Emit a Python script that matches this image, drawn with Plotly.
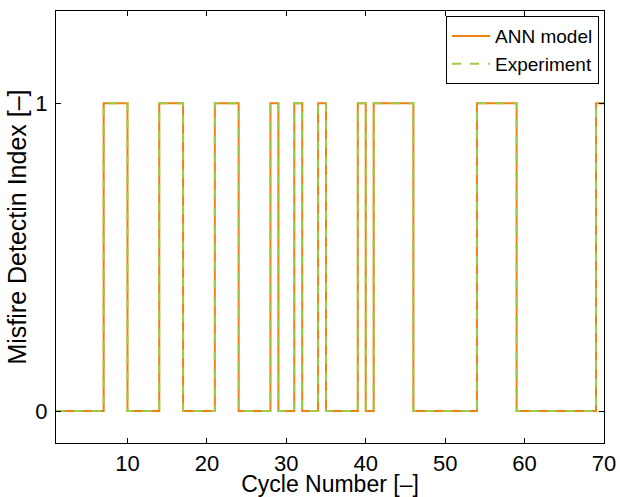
import plotly.graph_objects as go

cycles = list(range(1, 71))
ann_model = [0, 0, 0, 0, 0, 0, 1, 1, 1, 0,
             0, 0, 0, 1, 1, 1, 0, 0, 0, 0,
             1, 1, 1, 0, 0, 0, 0, 1, 0, 0,
             1, 0, 0, 1, 0, 0, 0, 0, 1, 0,
             1, 1, 1, 1, 1, 0, 0, 0, 0, 0,
             0, 0, 0, 1, 1, 1, 1, 1, 0, 0,
             0, 0, 0, 0, 0, 0, 0, 0, 1, 1]
experiment = list(ann_model)

x_ticks = [10, 20, 30, 40, 50, 60, 70]
y_ticks = [0, 1]

font_family = "Liberation Sans, Arial, sans-serif"

fig = go.Figure()
fig.add_trace(go.Scatter(x=cycles, y=ann_model, mode="lines", line_shape="hv",
                         name="ANN model", line=dict(color="#EC8210", width=2)))
fig.add_trace(go.Scatter(x=cycles, y=experiment, mode="lines", line_shape="hv",
                         name="Experiment", line=dict(color="#9DCB4C", width=2, dash="dash")))

axis_common = dict(showline=True, linecolor="black", linewidth=1, mirror="ticks",
                   ticks="inside", ticklen=5, tickcolor="black", showgrid=False,
                   zeroline=False, automargin=False,
                   tickfont=dict(size=22, color="black", family=font_family))

fig.update_layout(
    width=620, height=497,
    margin=dict(l=56, r=16, t=11, b=54),
    plot_bgcolor="white", paper_bgcolor="white",
    font=dict(family=font_family, color="black"),
    xaxis=dict(range=[1, 70], tickvals=x_ticks, ticklabelstandoff=1,
               title=dict(text="Cycle Number [–]", font=dict(size=23), standoff=0),
               **axis_common),
    yaxis=dict(range=[-0.104, 1.3], tickvals=y_ticks, ticklabelstandoff=3,
               title=dict(text="Misfire Detectin Index [–]", font=dict(size=25), standoff=1),
               **axis_common),
    legend=dict(x=0.991, y=0.988, xanchor="right", yanchor="top",
                bordercolor="black", borderwidth=1, bgcolor="white",
                font=dict(size=19, color="black"), tracegroupgap=0,
                itemwidth=38),
    showlegend=True,
)

fig.write_html("out.html", config={"displayModeBar": False},
               post_script="document.body.style.margin='0';document.body.style.padding='0';")
